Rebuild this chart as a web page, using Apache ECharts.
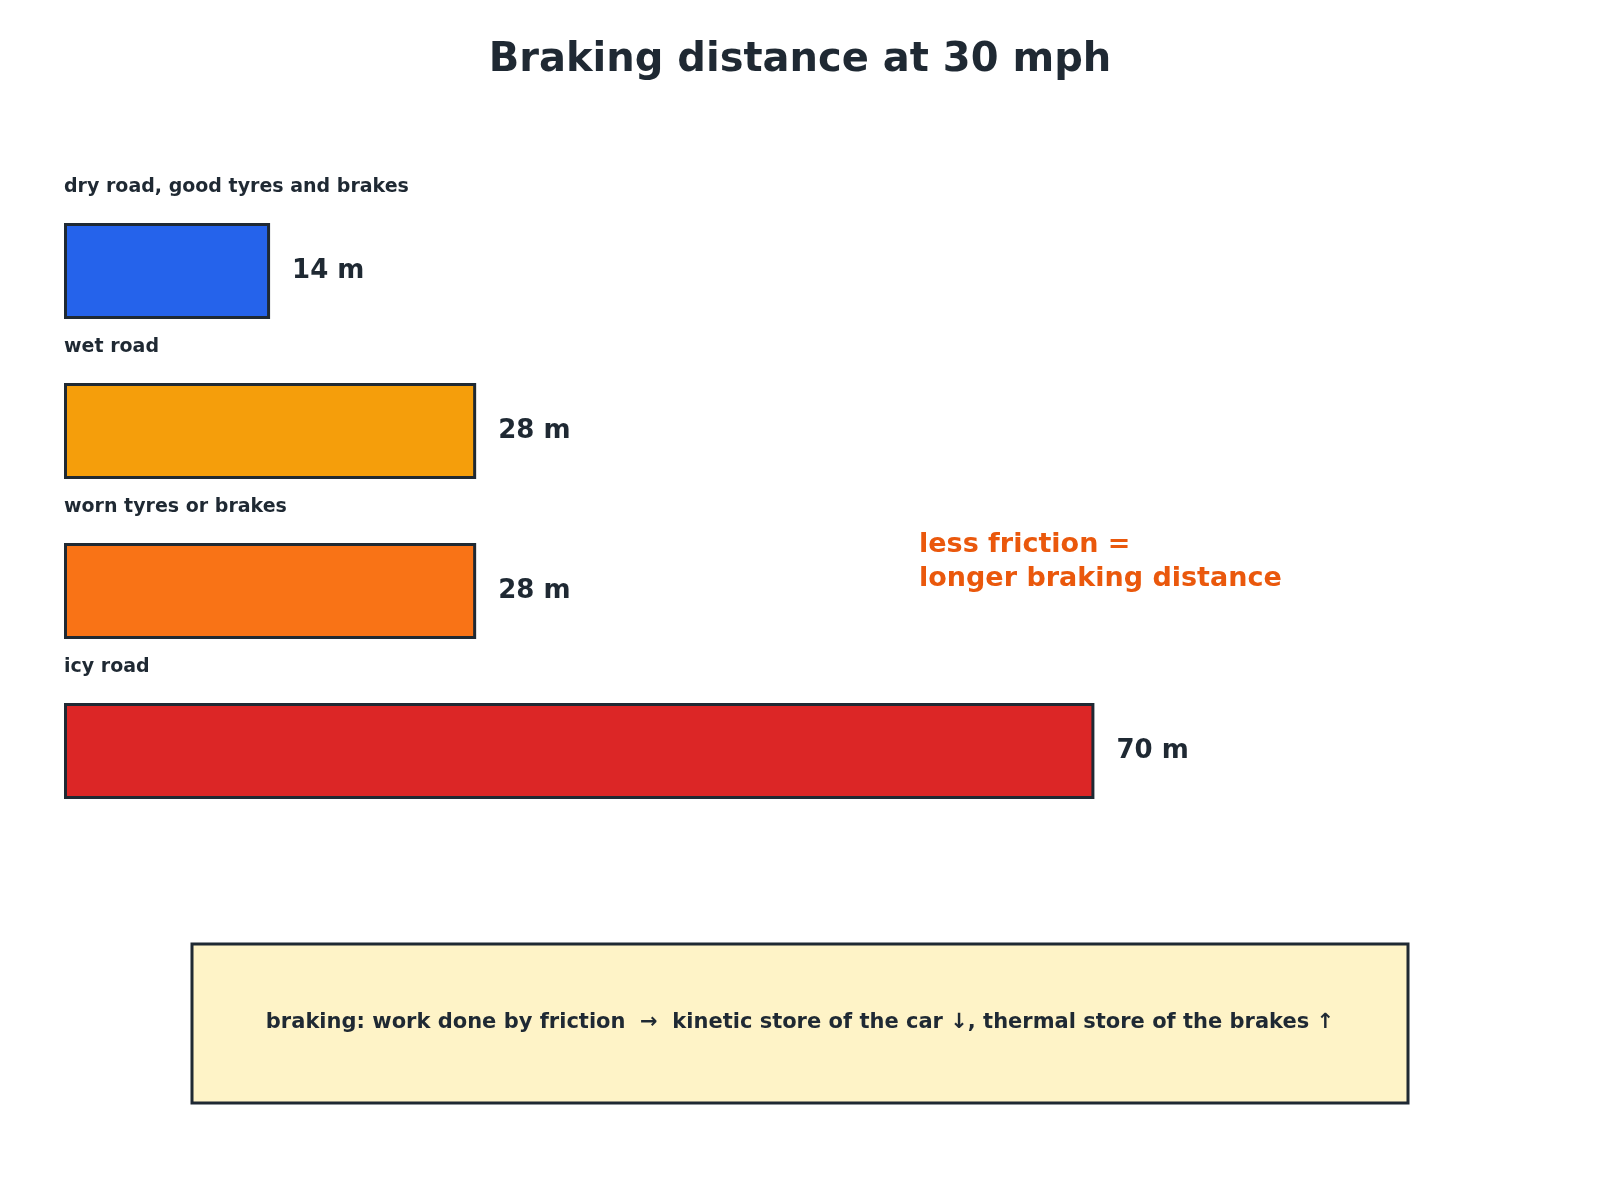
<!DOCTYPE html>
<html>
<head>
<meta charset="utf-8">
<script src="https://cdn.jsdelivr.net/npm/echarts@6/dist/echarts.min.js"></script>
<style>html,body{margin:0;background:#fff}#chart{width:1600px;height:1200px}</style>
</head>
<body>
<div id="chart"></div>
<script>
var categories = ['dry road, good tyres and brakes', 'wet road', 'worn tyres or brakes', 'icy road'];
var distances = [14, 28, 28, 70];
var barColors = ['#2563eb', '#f59e0b', '#f97316', '#dc2626'];

var ink = '#1f2933';
var font = 'DejaVu Sans';
var chart = echarts.init(document.getElementById('chart'));

chart.setOption({
  backgroundColor: '#fff',
  animation: false,
  title: {
    text: 'Braking distance at 30 mph',
    left: 'center',
    top: 36,
    textStyle: {fontFamily: font, fontSize: 40, fontWeight: 'bold', color: ink}
  },
  grid: {left: 64, top: 191, width: 1472, height: 640},
  xAxis: {type: 'value', min: 0, max: 100, show: false},
  yAxis: {type: 'category', data: categories, inverse: true, show: false},
  series: [
    {
      type: 'bar',
      barWidth: 96,
      data: distances.map(function (v, i) {
        return {value: v, itemStyle: {color: barColors[i]}};
      }),
      itemStyle: {borderColor: ink, borderWidth: 3},
      label: {
        show: true, position: 'right', distance: 22,
        formatter: '{c} m',
        fontFamily: font, fontSize: 26, fontWeight: 'bold', color: ink
      }
    },
    {
      type: 'bar',
      barWidth: 96,
      barGap: '-100%',
      data: distances,
      itemStyle: {color: 'rgba(0,0,0,0)'},
      silent: true,
      label: {
        show: true, position: [0, -36],
        formatter: '{b}', verticalAlign: 'middle',
        fontFamily: font, fontSize: 19, fontWeight: 'bold', color: ink
      }
    }
  ],
  graphic: [
    {
      type: 'text', left: 1119 - 200, top: 528,
      style: {
        text: 'less friction =\nlonger braking distance',
        x: 200, align: 'center', lineHeight: 34,
        fill: '#ea580c', font: 'bold 27px "DejaVu Sans"'
      }
    },
    {
      type: 'rect',
      shape: {x: 192, y: 944, width: 1216, height: 159},
      style: {fill: '#fef3c7', stroke: ink, lineWidth: 3}
    },
    {
      type: 'text', x: 800, y: 1023,
      style: {
        text: 'braking: work done by friction  \u2192  kinetic store of the car \u2193, thermal store of the brakes \u2191',
        align: 'center', verticalAlign: 'middle',
        fill: ink, font: 'bold 21px "DejaVu Sans"'
      }
    }
  ]
});
</script>
</body>
</html>
